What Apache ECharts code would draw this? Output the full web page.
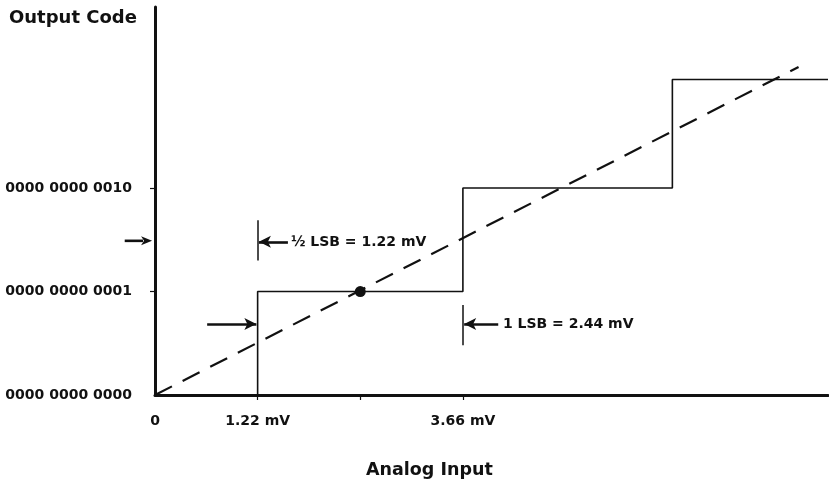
<!DOCTYPE html>
<html>
<head>
<meta charset="utf-8">
<script src="https://cdn.jsdelivr.net/npm/echarts@6/dist/echarts.min.js"></script>
<style>html,body{margin:0;padding:0;background:#fff}#c{width:829px;height:481px}</style>
</head>
<body>
<div id="c"></div>
<script>
// ---- data ----
var stepX = [0, 1.22, 1.22, 3.66, 3.66, 6.15, 6.15, 8.0];
var stepY = [0, 0, 1, 1, 2, 2, 3.05, 3.05];
var idealX = [0, 7.65];
var idealY = [0, 3.17];
var midPoint = [2.44, 1];
var yTickValues = [0, 1, 2];
var yTickLabels = ['0000 0000 0000', '0000 0000 0001', '0000 0000 0010'];
var xLabelValues = [0, 1.22, 3.66];
var xLabelTexts = ['0', '1.22 mV', '3.66 mV'];
var xTickValues = [1.22, 2.44, 3.66];
// annotation arrows inside the plot: [x1, y1, x2, y2]
var arrows = [
  [1.58, 1.48, 1.235, 1.48],
  [0.62, 0.686, 1.205, 0.686],
  [4.08, 0.686, 3.675, 0.686]
];
// arrow pointing at the vertical axis (outside plot area)
var axisArrowX = [-0.36, -0.035];
var axisArrowY = [1.49, 1.49];
var bars = [
  [1.22, 1.69, 1.22, 1.30],
  [3.66, 0.87, 3.66, 0.48]
];
var noteX = [1.61, 4.13];
var noteY = [1.48, 0.686];
var noteText = ['½ LSB = 1.22 mV', '1 LSB = 2.44 mV'];

function zip(a, b) { return a.map(function (v, i) { return [v, b[i]]; }); }

var FONT = 'DejaVu Sans';
var INK = '#111';
var chart = echarts.init(document.getElementById('c'));
var markData = arrows.map(function (a) {
  return [{ coord: [a[0], a[1]], symbol: 'none', lineStyle: { width: 2.6, color: INK, type: 'solid' } },
          { coord: [a[2], a[3]], symbol: 'arrow', symbolSize: [9, 12] }];
}).concat(bars.map(function (b) {
  return [{ coord: [b[0], b[1]], symbol: 'none', lineStyle: { width: 1.5, color: INK, type: 'solid' } },
          { coord: [b[2], b[3]], symbol: 'none' }];
}));

var yLab = {};
yTickValues.forEach(function (v, i) { yLab[v] = yTickLabels[i]; });
var xLab = {};
xLabelValues.forEach(function (v, i) { xLab[v] = xLabelTexts[i]; });

chart.setOption({
  animation: false,
  backgroundColor: '#fff',
  title: [
    { text: 'Output Code', left: 4, top: 4, textStyle: { fontFamily: FONT, fontWeight: 'bold', fontSize: 18, color: INK } },
    { text: 'Analog Input', left: 361, top: 456, textStyle: { fontFamily: FONT, fontWeight: 'bold', fontSize: 17.5, color: INK } }
  ],
  grid: { left: 155, right: 1, top: 7, bottom: 86, containLabel: false },
  xAxis: [{
    type: 'value', min: 0, max: 8, position: 'bottom',
    splitLine: { show: false },
    axisLine: { show: true, onZero: false, lineStyle: { color: INK, width: 3 } },
    axisTick: { show: true, customValues: xTickValues, length: 5, lineStyle: { color: INK, width: 1.2 } },
    axisLabel: { show: true, customValues: xLabelValues, margin: 19, fontFamily: FONT, fontWeight: 'bold', fontSize: 14, color: INK,
      formatter: function (v) { return xLab[v] !== undefined ? xLab[v] : ''; } }
  }],
  yAxis: [{
    type: 'value', min: 0, max: 3.75, position: 'left',
    splitLine: { show: false },
    axisLine: { show: true, onZero: false, lineStyle: { color: INK, width: 3 } },
    axisTick: { show: true, customValues: [1, 2], length: 5, lineStyle: { color: INK, width: 1.2 } },
    axisLabel: { show: true, customValues: yTickValues, margin: 23, fontFamily: FONT, fontWeight: 'bold', fontSize: 14, color: INK,
      formatter: function (v) { return yLab[v] !== undefined ? yLab[v] : ''; } }
  }],
  series: [
    {
      type: 'line', name: 'ideal', data: zip(idealX, idealY), showSymbol: false, symbol: 'none',
      lineStyle: { color: INK, width: 2.2, type: [19, 12] }, silent: true
    },
    {
      type: 'line', name: 'step', data: zip(stepX, stepY), showSymbol: false, symbol: 'none', clip: false,
      lineStyle: { color: INK, width: 1.6 }, silent: true,
      markLine: { silent: true, animation: false, label: { show: false }, symbol: ['none', 'none'], data: markData }
    },
    {
      type: 'scatter', name: 'mid', data: [midPoint], symbolSize: 11, itemStyle: { color: INK, opacity: 1 }, silent: true
    },
    {
      type: 'scatter', name: 'notes', clip: false, symbolSize: 1, itemStyle: { color: '#fff', opacity: 1 }, silent: true,
      data: noteX.map(function (x, i) { return { value: [x, noteY[i]], label: { formatter: noteText[i] } }; }),
      label: { show: true, position: 'right', distance: 0, fontFamily: FONT, fontWeight: 'bold', fontSize: 14, color: INK, opacity: 1 }
    }
  ]
});

// arrow pointing at the vertical axis, positioned through the chart's own scales
var p1 = chart.convertToPixel({ gridIndex: 0 }, [axisArrowX[0], axisArrowY[0]]);
var p2 = chart.convertToPixel({ gridIndex: 0 }, [axisArrowX[1], axisArrowY[1]]);
var headLen = 11, headHalf = 4.5;
chart.setOption({
  graphic: [
    { type: 'line', silent: true, shape: { x1: p1[0], y1: p1[1], x2: p2[0] - headLen + 2, y2: p2[1] },
      style: { stroke: INK, lineWidth: 2.6 } },
    { type: 'polygon', silent: true,
      shape: { points: [[p2[0], p2[1]], [p2[0] - headLen, p2[1] - headHalf], [p2[0] - headLen + 3, p2[1]], [p2[0] - headLen, p2[1] + headHalf]] },
      style: { fill: INK } }
  ]
});
</script>
</body>
</html>
